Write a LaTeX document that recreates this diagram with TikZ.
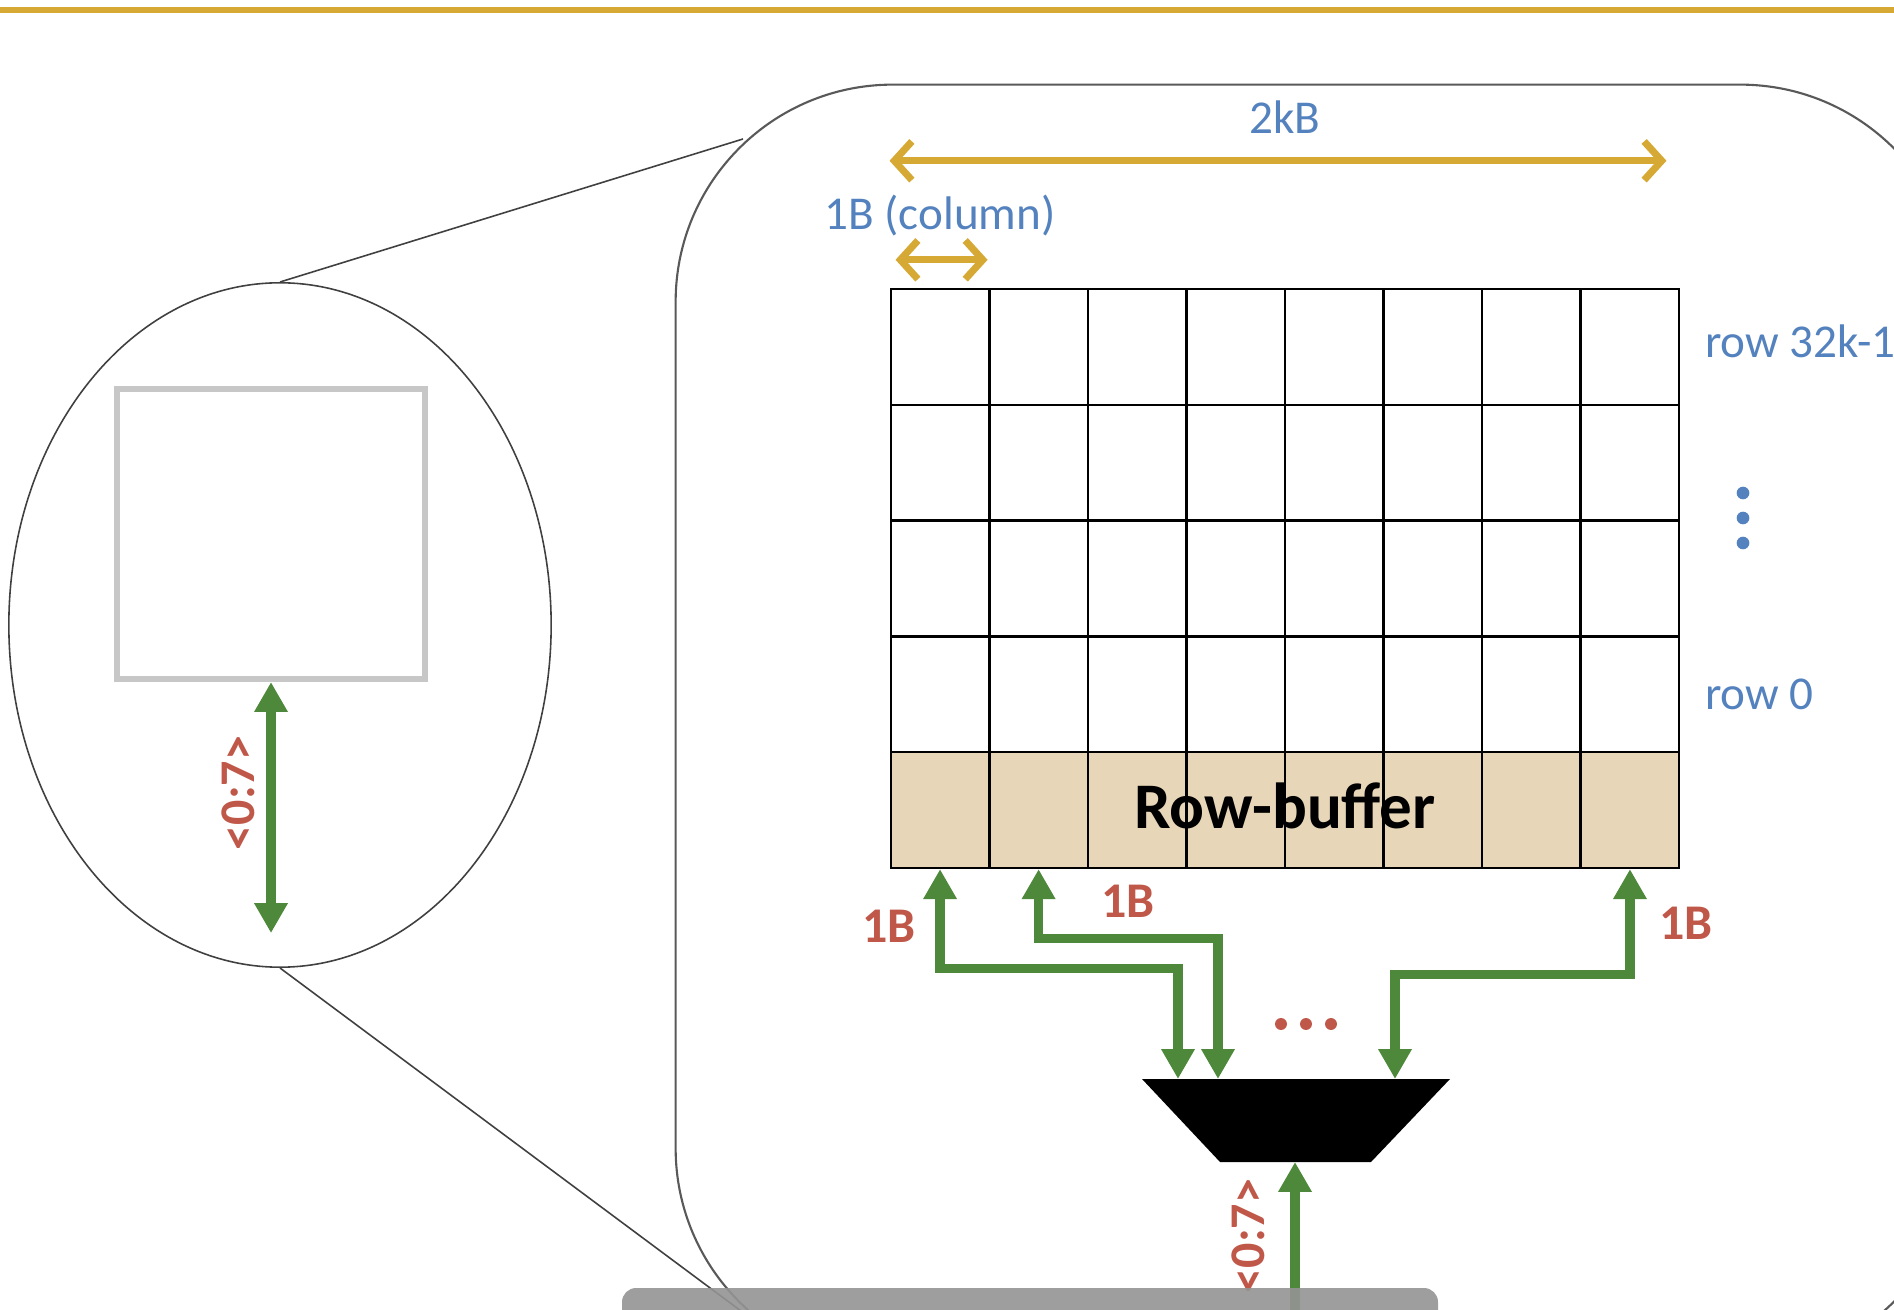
\documentclass[tikz,border=0pt]{standalone}
\usepackage{fontspec}
\setmainfont{Carlito}
\usepackage{xcolor}
\usepackage{tikz}
\usetikzlibrary{matrix, positioning, calc, arrows.meta, shapes.geometric}

\definecolor{rulegold}{RGB}{214,168,52}
\definecolor{labblue}{RGB}{84,130,190}
\definecolor{labred}{RGB}{192,88,74}
\definecolor{busgreen}{RGB}{78,136,58}
\definecolor{buftan}{RGB}{232,214,184}

\tikzset{
  arrcell/.style={draw, line width=0.7pt, minimum width=0.985cm, minimum height=1.157cm, inner sep=0pt},
  lab/.style={font=\fontsize{13.4}{16}\selectfont, text=labblue, inner sep=0pt},
  buslab/.style={font=\fontsize{14.2}{17}\selectfont\bfseries, text=labred, inner sep=0pt},
  rowlab/.style={font=\fontsize{18.5}{22}\selectfont\bfseries, inner sep=0pt},
  bus/.style={draw=busgreen, line width=2.6pt, >={Triangle[length=8.5pt,width=9pt]}},
  dimarrow/.style={draw=rulegold, line width=2pt, {Straight Barb[length=5pt,width=11pt]}-{Straight Barb[length=5pt,width=11pt]}},
  zoomline/.style={draw=black!75, line width=0.45pt},
}

\begin{document}
\begin{tikzpicture}[x=0.01cm, y=-0.01cm]
\useasboundingbox (0,0) rectangle (1894,1310);
\clip (0,0) rectangle (1894,1310);

% slide rule on top
\draw[rulegold, line width=1.5pt] (0,10) -- (1894,10);

% chip seen from far
\node[draw=black!75, line width=0.45pt, ellipse, minimum width=5.42cm, minimum height=6.84cm] (lens) at (280,625) {};
\node[draw=black!22, line width=1.7pt, minimum width=3.08cm, minimum height=2.9cm] (chip) at (271,534) {};
\draw[bus, <->] (chip.south) -- ++(0,251);
\node[buslab, rotate=90] (pins) at (238,793) {<0:7>};

% zoomed bank
\node[draw=black!65, line width=0.6pt, rounded corners=2.17cm, minimum width=12.81cm, minimum height=12.8cm] (bank) at (1316.5,725) {};
\coordinate (zt) at (743,139);
\coordinate (zb) at (780,1340);
\draw[zoomline] (lens.north) -- (zt);
\draw[zoomline] (lens.south) -- (zb);

% cell array + row-buffer
\matrix (arr) [matrix of nodes, nodes in empty cells, nodes={arrcell},
  column sep=-0.7pt, row sep=-0.7pt,
  row 5/.style={nodes={fill=buftan}}] at (1285,578.5)
{
  & & & & & & & \\
  & & & & & & & \\
  & & & & & & & \\
  & & & & & & & \\
  & & & & & & & \\
};
\node[rowlab] (rb) at ($(arr-5-4.center)!0.5!(arr-5-5.center)+(0,-4)$) {Row-buffer};

% sizes
\draw[dimarrow, shorten >=0.14cm] ([yshift=1.27cm]arr-1-1.north west) -- node[lab, above=0.24cm] (kb) {2kB} ([yshift=1.27cm]arr-1-8.north east);
\draw[dimarrow, shorten <=0.06cm, shorten >=0.03cm] ([yshift=0.28cm]arr-1-1.north west) -- node[lab, above=0.2cm] (col) {1B (column)} ([yshift=0.28cm]arr-1-1.north east);

% row names
\node[lab, right=0.24cm of arr-1-8, yshift=0.06cm] (rtop) {row 32k-1};
\node[lab, right=0.24cm of arr-4-8] (rbot) {row 0};
\foreach \d in {493,518,543}
  \fill[labblue] (1743,\d) circle (1.8pt);

% column mux
\coordinate (mux) at (1296,1120);
\fill (mux) ++(-154,-41) -- ++(308,0) -- ++(-79,83) -- ++(-151,0) -- cycle;
\coordinate (in1) at (1178,1079);
\coordinate (in2) at (1218,1079);
\coordinate (in3) at (1395,1079);
\coordinate (out) at (1295,1162);
\coordinate (pin) at (1295,1340);

\draw[bus, <->] (arr-5-1.south) -- node[buslab, left=0.2cm, pos=0.58] (b1) {1B} ++(0,99) -| (in1);
\draw[bus, <->] (arr-5-2.south) -- ++(0,69) -| node[buslab, pos=0.25, above=0.16cm] (b2) {1B} (in2);
\draw[bus, <->] (arr-5-8.south) -- node[buslab, right=0.25cm, pos=0.52] (b3) {1B} ++(0,105) -| (in3);
\foreach \d in {1281,1306,1331}
  \fill[labred] (\d,1024) circle (1.7pt);

\draw[bus, ->] (pin) -- (out);
\node[buslab, rotate=90] (width) at (1248,1236) {<0:7>};

% caption bar
\fill[black!42, fill opacity=0.9, rounded corners=4pt] (622,1288) rectangle (1438,1345);
\end{tikzpicture}
\end{document}
